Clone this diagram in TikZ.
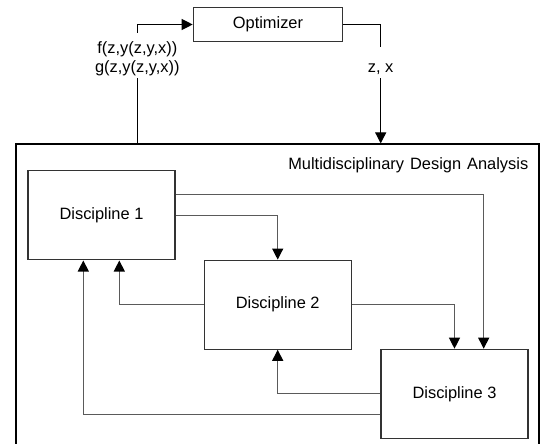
\documentclass[tikz,border=0pt]{standalone}
\usepackage{fontspec}
\setmainfont{Liberation Sans}
\usetikzlibrary{arrows.meta}

\definecolor{boxline}{HTML}{333333}
\definecolor{flowline}{HTML}{5A5A5A}

\tikzset{
  txt/.style={font=\fontsize{16.4}{19}\selectfont},
  block/.style={txt, draw=boxline, line width=1.2pt, fill=white,
    minimum width=147pt, minimum height=89pt, inner sep=0pt},
  optbox/.style={txt, draw=boxline, line width=1.2pt,
    minimum width=149.4pt, minimum height=34.4pt, inner sep=0pt},
  outer/.style={draw=black, line width=1.8pt, inner sep=0pt},
  tip/.style={-{Triangle[width=11pt,length=11pt,color=black]}},
  flow/.style={draw=flowline, line width=1.2pt},
  loop/.style={draw=black, line width=1.2pt},
}

\begin{document}
\begin{tikzpicture}[x=1pt, y=-1pt]
  \useasboundingbox (0,0) rectangle (542,444);
  \clip (0,0) rectangle (542,444);
  \fill[white] (0,0) rectangle (542,444);

  % optimizer and the analysis frame around the disciplines
  \node[optbox] (opt) at (268,24.5) {Optimizer};
  \node[outer, minimum width=522.7pt, minimum height=325.7pt] (mda) at (277.35,307.15) {};
  \node[txt, inner sep=0pt, anchor=base east] (mdalabel) at (528.5,169.5)
    {Multidisciplinary\hspace{1.5pt} Design\hspace{1.5pt} Analysis};

  % the three disciplines
  \node[block] (d1) at (101.5,215.4) {Discipline 1};
  \node[block] (d2) at (277.7,304.7) {Discipline 2};
  \node[block] (d3) at (454.5,393.8) {Discipline 3};

  % labels on the optimizer loop
  \node[txt, align=center, inner ysep=0pt, inner xsep=2pt, anchor=north] (fg) at (137.3,33)
    {\rule{0pt}{20pt}f(z,y(z,y,x))\\g(z,y(z,y,x))\rule[-6pt]{0pt}{6pt}};
  \node[txt, inner ysep=0pt, inner xsep=2pt, text height=25pt, text depth=6pt,
    anchor=north] (zx) at (380.7,47) {z, x};

  % optimizer loop
  \draw[loop] (fg.south) -- (fg.south |- mda.north);
  \draw[loop, tip] (fg.north) |- (opt.west);
  \draw[loop] (opt.east) -| (zx.north);
  \draw[loop, tip] (zx.south) -- (zx.south |- mda.north);

  % coupling between the disciplines
  \draw[flow, tip] ([yshift=21.1pt]d1.east) -| ([xshift=29.2pt]d3.north);
  \draw[flow, tip] (d1.east) -| (d2.north);
  \draw[flow, tip] (d2.east) -| (d3.north);
  \draw[flow, tip] (d3.west) -| (d2.south);
  \draw[flow, tip] ([yshift=-20.4pt]d3.west) -| ([xshift=-18.2pt]d1.south);
  \draw[flow, tip] (d2.west) -| ([xshift=17.8pt]d1.south);
\end{tikzpicture}
\end{document}
